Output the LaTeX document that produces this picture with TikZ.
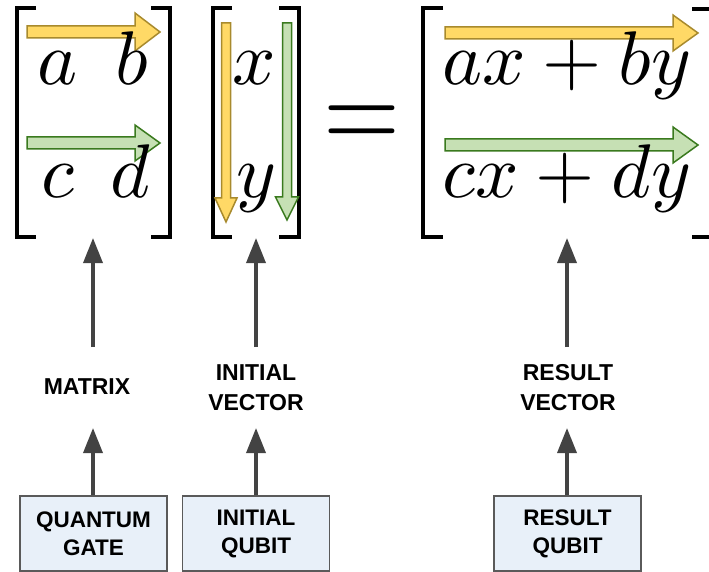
\documentclass[tikz,border=0pt]{standalone}
\usepackage{fontspec}
\usepackage{graphicx}
\newfontfamily\labelfont{Liberation Sans}
\usetikzlibrary{arrows.meta}
\definecolor{yfill}{HTML}{FFD966}
\definecolor{ydraw}{HTML}{A88A2D}
\definecolor{gfill}{HTML}{C6E0B4}
\definecolor{gdraw}{HTML}{3A7A1E}
\definecolor{boxfill}{HTML}{E8F0F9}
\definecolor{boxdraw}{HTML}{5A5A5A}
\definecolor{arr}{HTML}{434343}
\newcommand{\hugemath}[1]{\scalebox{7.6}{$#1$}}
\tikzset{
  bracket/.style={line width=4pt, line join=miter, line cap=butt},
  yarrow/.style={fill=yfill, draw=ydraw, line width=1.5pt, line join=miter},
  garrow/.style={fill=gfill, draw=gdraw, line width=1.5pt, line join=miter},
  mathtxt/.style={inner sep=0pt, anchor=base},
  lbl/.style={inner sep=0pt, align=center, font=\labelfont\bfseries\fontsize{23}{30}\selectfont},
  qbox/.style={draw=boxdraw, fill=boxfill, line width=1.5pt, minimum width=147pt, minimum height=75pt, inner sep=0pt, align=center, font=\labelfont\bfseries\fontsize{22.5}{28}\selectfont},
  conn/.style={draw=arr, line width=3.5pt, -{Triangle[length=25pt,width=19pt]}}
}
\begin{document}
\begin{tikzpicture}[x=1pt,y=-1pt]
\useasboundingbox (0,0) rectangle (709,572);
% brackets
\draw[bracket] (36,8) -- (17,8) -- (17,237) -- (36,237);
\draw[bracket] (151,8) -- (170,8) -- (170,237) -- (151,237);
\draw[bracket] (232,8) -- (213,8) -- (213,237) -- (232,237);
\draw[bracket] (279,8) -- (299,8) -- (299,237) -- (279,237);
\draw[bracket] (443,8) -- (423,8) -- (423,237) -- (443,237);
\draw[bracket] (692,9) -- (711,9) -- (711,237) -- (692,237);
% block arrows
\draw[yarrow] (27,26) -- (135,26) -- (135,13) -- (160,32) -- (135,51) -- (135,38) -- (27,38) -- cycle;
\draw[garrow] (27,137) -- (135,137) -- (135,125) -- (160,143) -- (135,161) -- (135,149) -- (27,149) -- cycle;
\draw[yarrow] (221.5,23) -- (221.5,198) -- (215,198) -- (226,222) -- (237,198) -- (230.5,198) -- (230.5,23) -- cycle;
\draw[garrow] (282.5,23) -- (282.5,197) -- (275.5,197) -- (287,220) -- (298.5,197) -- (291.5,197) -- (291.5,23) -- cycle;
\draw[yarrow] (445,27) -- (673,27) -- (673,15) -- (698,33) -- (673,51) -- (673,39) -- (445,39) -- cycle;
\draw[garrow] (445,139) -- (673,139) -- (673,127) -- (698,145) -- (673,163) -- (673,151) -- (445,151) -- cycle;
% math text
\node[mathtxt] (a) at (58,85) {\hugemath{a}};
\node[mathtxt] (b) at (132,85) {\hugemath{b}};
\node[mathtxt] (c) at (58,197) {\hugemath{c}};
\node[mathtxt] (d) at (130,197) {\hugemath{d}};
\node[mathtxt] (x) at (254,85) {\hugemath{x}};
\node[mathtxt] (y) at (256,197) {\hugemath{y}};
\node[mathtxt] (eq) at (362,150) {\scalebox{9.9}[11.9]{$=$}};
\node[mathtxt] (r1) at (567,85) {\hugemath{ax+by}};
\node[mathtxt] (r2) at (567,197) {\hugemath{cx+dy}};
% labels
\node[lbl] (matrix) at (87,387) {MATRIX};
\node[lbl] (ivec) at (256,388) {INITIAL\\VECTOR};
\node[lbl] (rvec) at (568,388) {RESULT\\VECTOR};
\node[qbox] (qgate) at (93.5,533.5) {QUANTUM\\GATE};
\node[qbox] (iqubit) at (256,533.5) {INITIAL\\QUBIT};
\node[qbox] (rqubit) at (567.5,533.5) {RESULT\\QUBIT};
% connector ends
\coordinate (m1) at (93,347);
\coordinate (m2) at (93,238);
\coordinate (v1) at (256,347);
\coordinate (v2) at (256,238);
\coordinate (r1s) at (567,347);
\coordinate (r2e) at (567,238);
\coordinate (mt) at (93,428);
\coordinate (vt) at (256,428);
\coordinate (rt) at (567,428);
\draw[conn] (m1) -- (m2);
\draw[conn] (v1) -- (v2);
\draw[conn] (r1s) -- (r2e);
\draw[conn] (qgate.north -| mt) -- (mt);
\draw[conn] (iqubit.north -| vt) -- (vt);
\draw[conn] (rqubit.north -| rt) -- (rt);
\end{tikzpicture}
\end{document}
